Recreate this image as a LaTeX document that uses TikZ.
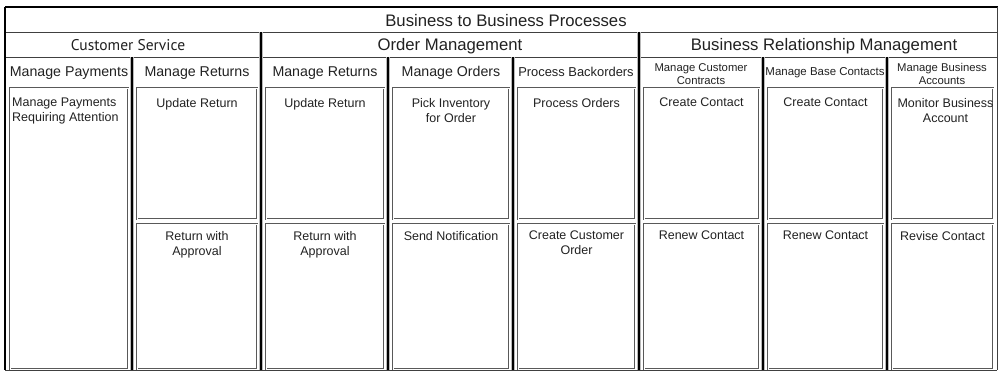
\documentclass[tikz,border=0pt]{standalone}
\usepackage{fontspec}
\setmainfont{Liberation Sans}
\newfontfamily\csfont{PT Sans}
\definecolor{txt}{gray}{0.13}
\definecolor{boxgray}{gray}{0.35}
\tikzset{
  frameline/.style={draw=black, line width=1.6pt},
  hline/.style={draw=black!75, line width=0.9pt},
  divider/.style={draw=black, line width=1.6pt, preaction={draw=gray!55, line width=3.6pt}},
  box/.style={draw=boxgray, line width=0.45pt, double=white, double distance=0.6pt, inner sep=0pt, outer sep=0pt, rectangle},
  btext/.style={font=\fontsize{12.5}{15}\selectfont, text=txt, align=center, inner sep=0pt},
  colhead/.style={font=\fontsize{14.2}{17}\selectfont, text=txt, inner sep=0pt, anchor=base},
  smallhead/.style={font=\fontsize{11.3}{13}\selectfont, text=txt, inner sep=0pt, align=center, anchor=north},
  cathead/.style={font=\fontsize{16.7}{20}\selectfont, text=txt, inner sep=0pt, anchor=base},
}
\newcommand\bx[5]{\node[box, anchor=north west, minimum width={#3-#2}, minimum height={#5-#4}] (#1) at (#2,#4) {};}
\begin{document}
\begin{tikzpicture}[x=1pt,y=-1pt]
\useasboundingbox (0,0) rectangle (999,371);
% bands
\draw[hline] (5,32) -- (997,32);
\draw[hline] (5,57) -- (997,57);
% frame
\draw[frameline] (5,7) -- (998,7);
\draw[frameline] (5,7) -- (5,370);
\draw[hline] (997,7) -- (997,370);
\draw[hline] (5,370) -- (997,370);
% category dividers
\draw[divider] (261,32) -- (261,370);
\draw[divider] (639,32) -- (639,370);
% column dividers
\foreach \xx in {132,388,513,763,887} { \draw[divider] (\xx,57) -- (\xx,370); }
% titles
\node[cathead] (title) at (506,27) {Business to Business Processes};
\node[cathead, font=\csfont\fontsize{15.5}{18}\selectfont] (cs) at (128,51) {Customer Service};
\node[cathead] (om) at (450,51) {Order Management};
\node[cathead] (brm) at (824,51) {Business Relationship Management};
% column headers
\node[colhead] (h1) at (69,77) {Manage Payments};
\node[colhead] (h2) at (197,77) {Manage Returns};
\node[colhead] (h3) at (325,77) {Manage Returns};
\node[colhead] (h4) at (451,77) {Manage Orders};
\node[colhead, font=\fontsize{12.9}{15}\selectfont] (h5) at (576,76.5) {Process Backorders};
\node[smallhead] (h6) at (701,63) {Manage Customer\\Contracts};
\node[colhead, font=\fontsize{11.45}{13}\selectfont] (h7) at (825,76) {Manage Base Contacts};
\node[smallhead] (h8) at (942,63) {Manage Business\\Accounts};
% boxes
\bx{b1}{10}{128}{88}{369}
\bx{b2a}{137}{257}{88}{219}
\bx{b2b}{137}{257}{224}{369}
\bx{b3a}{266}{384}{88}{219}
\bx{b3b}{266}{384}{224}{369}
\bx{b4a}{393}{509}{88}{219}
\bx{b4b}{393}{509}{224}{369}
\bx{b5a}{518}{635}{88}{219}
\bx{b5b}{518}{635}{224}{369}
\bx{b6a}{644}{759}{88}{219}
\bx{b6b}{644}{759}{224}{369}
\bx{b7a}{768}{883}{88}{219}
\bx{b7b}{768}{883}{224}{369}
\bx{b8a}{892}{993}{88}{219}
\bx{b8b}{892}{993}{224}{369}
% box texts
\node[btext, align=left, anchor=north west] (t1) at (12,98) {Manage Payments\\Requiring Attention};
\node[btext, anchor=north] (t2a) at ([yshift=-10pt]b2a.north) {Update Return};
\node[btext, anchor=north] (t2b) at ([yshift=-7pt]b2b.north) {Return with\\Approval};
\node[btext, anchor=north] (t3a) at ([yshift=-10pt]b3a.north) {Update Return};
\node[btext, anchor=north] (t3b) at ([yshift=-7pt]b3b.north) {Return with\\Approval};
\node[btext, anchor=north] (t4a) at ([yshift=-10pt]b4a.north) {Pick Inventory\\for Order};
\node[btext, anchor=north] (t4b) at ([yshift=-7pt]b4b.north) {Send Notification};
\node[btext, anchor=north] (t5a) at ([yshift=-10pt]b5a.north) {Process Orders};
\node[btext, anchor=north] (t5b) at ([yshift=-7pt]b5b.north) {Create Customer\\Order};
\node[btext, anchor=north] (t6a) at ([yshift=-10pt]b6a.north) {Create Contact};
\node[btext, anchor=north] (t6b) at ([yshift=-7pt]b6b.north) {Renew Contact};
\node[btext, anchor=north] (t7a) at ([yshift=-10pt]b7a.north) {Create Contact};
\node[btext, anchor=north] (t7b) at ([yshift=-7pt]b7b.north) {Renew Contact};
\node[btext, anchor=north] (t8a) at ([yshift=-10pt,xshift=3pt]b8a.north) {Monitor Business\\Account};
\node[btext, anchor=north] (t8b) at ([yshift=-7pt]b8b.north) {Revise Contact};
\end{tikzpicture}
\end{document}
